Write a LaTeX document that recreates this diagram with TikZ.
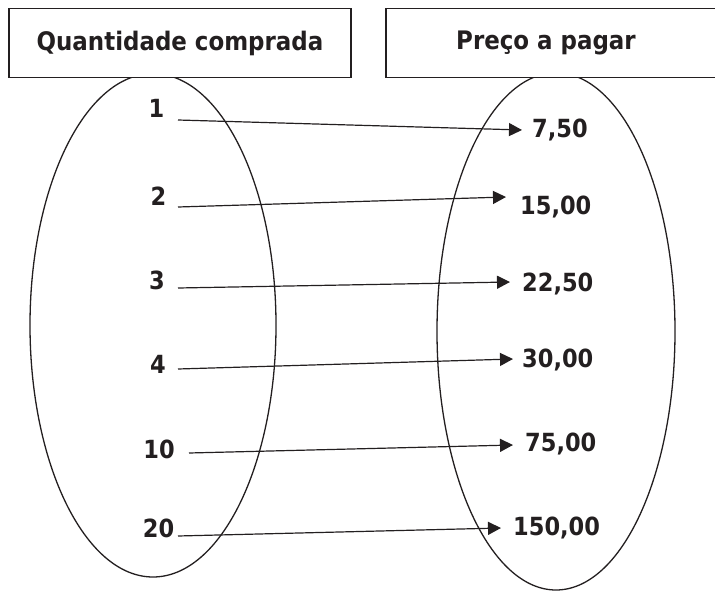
\documentclass[tikz,border=0pt]{standalone}
\usepackage{fontspec}
\setmainfont{DejaVu Sans Condensed}
\usetikzlibrary{arrows.meta}
\definecolor{ink}{HTML}{231F20}
\begin{document}
\begin{tikzpicture}[x=1pt,y=-1pt,
  lbl/.style={font=\bfseries\fontsize{25}{30}\selectfont, text=ink, inner sep=0pt, text height=18pt, text depth=0pt},
  hdrbox/.style={draw=ink, line width=1.6pt, fill=white},
  hdrtxt/.style={font=\bfseries\fontsize{25.5}{30}\selectfont, text=ink},
  oval/.style={draw=ink, line width=1.3pt},
  arr/.style={draw=ink, line width=1.2pt, -{Triangle[length=13pt,width=13pt]}}]
\useasboundingbox (0,0) rectangle (715,591);
% ovals
\draw[oval] (153,325.3) ellipse [x radius=123, y radius=251.7];
\draw[oval] (556,331.4) ellipse [x radius=119, y radius=258.6];
% header boxes
\draw[hdrbox] (9,8.5) rectangle (351,77.5);
\draw[hdrbox] (386,8.5) rectangle (730,77.5);
\node[hdrtxt] (hq) at (180,43) {Quantidade comprada};
\node[hdrtxt] (hp) at (546,43) {Preço a pagar};
% left values
\node[lbl] (n1) at (156.5,109) {1};
\node[lbl] (n2) at (158.5,196) {2};
\node[lbl] (n3) at (157,280) {3};
\node[lbl] (n4) at (158,364) {4};
\node[lbl] (n5) at (159,449) {10};
\node[lbl] (n6) at (158.5,528.5) {20};
% right values
\node[lbl, anchor=west] (v1) at (532,129) {7,50};
\node[lbl, anchor=west] (v2) at (520,205) {15,00};
\node[lbl, anchor=west] (v3) at (522,282) {22,50};
\node[lbl, anchor=west] (v4) at (522,358) {30,00};
\node[lbl, anchor=west] (v5) at (525,442) {75,00};
\node[lbl, anchor=west] (v6) at (513,526) {150,00};
% arrow ends
\coordinate (s1) at (178,120);  \coordinate (e1) at (522,130);
\coordinate (s2) at (178,207);  \coordinate (e2) at (506,197);
\coordinate (s3) at (178,288);  \coordinate (e3) at (510,282);
\coordinate (s4) at (178,369);  \coordinate (e4) at (513,359);
\coordinate (s5) at (189,453);  \coordinate (e5) at (513,445);
\coordinate (s6) at (178,536);  \coordinate (e6) at (501,528);
\draw[arr] (s1) -- (e1);
\draw[arr] (s2) -- (e2);
\draw[arr] (s3) -- (e3);
\draw[arr] (s4) -- (e4);
\draw[arr] (s5) -- (e5);
\draw[arr] (s6) -- (e6);
\end{tikzpicture}
\end{document}
